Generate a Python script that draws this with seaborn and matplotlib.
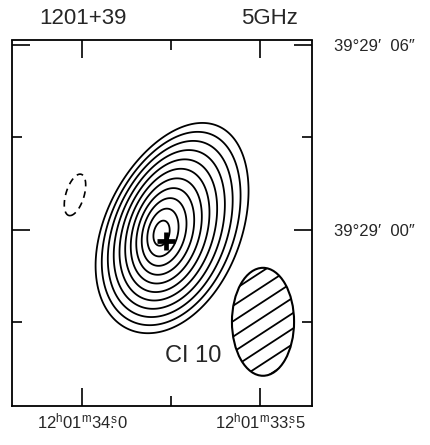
import numpy as np
import matplotlib
matplotlib.use("Agg")
import matplotlib.pyplot as plt
from matplotlib.patches import Ellipse
from matplotlib.ticker import FixedLocator, FixedFormatter, NullFormatter
import seaborn as sns

# ---- main source (RA in seconds of 12h01m, Dec offset in arcsec from +39°29'00") ----
src_ra, src_dec = 33.7809, -0.13       # brightness peak
src_peak = 115.5                       # map units
src_major, src_minor = 3.60, 2.20      # semi-axes of the lowest contour (arcsec)
src_tilt = [12.0, 24.0]                # deg from north toward the right, peak -> lowest contour
src_shift = [0.44, 0.20]               # drift of contour centres, right/up (arcsec)
src_taper = 0.05                       # narrowing toward the north end
src_core = 0.12                        # rounding of the profile at the peak

# ---- negative feature ----
neg_ra, neg_dec = 34.0197, 1.135
neg_peak = -14.0
neg_major, neg_minor = 0.85, 0.36      # arcsec (gaussian sigma)
neg_tilt = 17.0

pos_levels = [10, 20, 30, 40, 50, 60, 70, 80, 90, 100, 110]
neg_levels = [-10]

# optical position
cross_ra, cross_dec = 33.764, -0.357

# restoring beam (FWHM, arcsec)
beam_ra, beam_dec = 33.4916, -2.98
beam_major, beam_minor = 3.50, 2.02
hatch_angle = 33.0      # deg above horizontal
hatch_step = 0.42       # arcsec between hatch lines

ra_major = [34.0, 33.5]
ra_labels = [r"$12^{\rm h}01^{\rm m}34\overset{\rm s}{.}0$",
             r"$12^{\rm h}01^{\rm m}33\overset{\rm s}{.}5$"]
ra_minor = [33.75]
dec_major = [6.0, 0.0]
dec_labels = ["39°29′  06″", "39°29′  00″"]
dec_minor = [3.0, -3.0]

title_left = "1201+39"
title_right = "5GHz"
note = "CI 10"

# ---- style ----
sns.set_theme(style="white")
plt.rcParams["font.family"] = ["Liberation Sans", "DejaVu Sans"]
plt.rcParams["mathtext.fontset"] = "custom"
plt.rcParams["mathtext.rm"] = "Liberation Sans"
plt.rcParams["mathtext.it"] = "Liberation Sans:italic"

K = 15.0 * np.cos(np.radians(39 + 29 / 60))   # arcsec per RA second

fig = plt.figure(figsize=(4.30, 4.45), dpi=100)
ax = fig.add_axes([12 / 430, 39 / 445, 300 / 430, 365.5 / 445])

ra = np.linspace(33.25, 34.30, 600)
dec = np.linspace(-6.5, 7.0, 600)
RA, DEC = np.meshgrid(ra, dec)


def rotated(dx, dy, tilt):
    t = np.radians(tilt)
    return dx * np.sin(t) + dy * np.cos(t), dx * np.cos(t) - dy * np.sin(t)


# main source: egg-shaped profile whose contour centres and axes drift outward
dx0 = (src_ra - RA) * K
dy0 = DEC - src_dec
rho = np.zeros_like(RA)
for _ in range(12):
    r = np.clip(rho, 0, 1.5)
    tilt = src_tilt[0] + (src_tilt[1] - src_tilt[0]) * np.clip(r, 0, 1)
    u, v = rotated(dx0 - r * src_shift[0], dy0 - r * src_shift[1], tilt)
    width = src_minor * np.clip(1 - src_taper * u / src_major, 0.3, None)
    rho = np.hypot(u / src_major, v / width)
lowest = pos_levels[0]
slope = (src_peak - lowest) / (np.sqrt(1 + src_core ** 2) - src_core)
top = src_peak + slope * src_core
field = np.clip(top - slope * np.sqrt(rho ** 2 + src_core ** 2), 0, None)

# negative feature
u, v = rotated((neg_ra - RA) * K, DEC - neg_dec, neg_tilt)
field += neg_peak * np.exp(-0.5 * ((u / neg_major) ** 2 + (v / neg_minor) ** 2))

ax.contour(RA, DEC, field, levels=pos_levels, colors="black", linewidths=1.3)
neg = ax.contour(RA, DEC, field, levels=neg_levels, colors="black", linewidths=1.2)
neg.set_linestyle((0, (4, 3)))

ax.plot([cross_ra], [cross_dec], marker="+", markersize=13, mew=3.4, color="black")

# hatched beam
beam = Ellipse((beam_ra, beam_dec), width=beam_minor / K, height=beam_major,
               facecolor="white", edgecolor="black", lw=1.5, zorder=3)
ax.add_patch(beam)
a = np.radians(hatch_angle)
nx, ny = -np.sin(a), np.cos(a)
for k in np.arange(-8, 9):
    ox, oy = (k + 0.3) * hatch_step * nx, (k + 0.3) * hatch_step * ny
    xs = np.array([ox - 4 * np.cos(a), ox + 4 * np.cos(a)])
    ys = np.array([oy - 4 * np.sin(a), oy + 4 * np.sin(a)])
    ln, = ax.plot(beam_ra - xs / K, beam_dec + ys, color="black", lw=1.3, zorder=4)
    ln.set_clip_path(beam)

ax.set_xlim(34.1966, 33.354)
ax.set_ylim(-5.71, 6.14)

ax.xaxis.set_major_locator(FixedLocator(ra_major))
ax.xaxis.set_major_formatter(FixedFormatter(ra_labels))
ax.xaxis.set_minor_locator(FixedLocator(ra_minor))
ax.xaxis.set_minor_formatter(NullFormatter())
ax.yaxis.set_major_locator(FixedLocator(dec_major))
ax.yaxis.set_major_formatter(FixedFormatter(dec_labels))
ax.yaxis.set_minor_locator(FixedLocator(dec_minor))
ax.yaxis.set_minor_formatter(NullFormatter())

ax.tick_params(which="both", direction="in", top=True, bottom=True, left=True, right=True,
               labelleft=False, labelright=True, color="black", width=1.2)
ax.tick_params(which="major", length=13)
ax.tick_params(which="minor", length=7)
ax.tick_params(axis="x", which="major", labelsize=12, pad=4)
ax.tick_params(axis="y", which="major", labelsize=12, pad=15.5)
for s in ax.spines.values():
    s.set_color("black")
    s.set_linewidth(1.3)

ax.text(0.603, 0.137, note, transform=ax.transAxes, fontsize=17, ha="center", va="center")
fig.text(83 / 430, 1 - 18 / 445, title_left, fontsize=16, ha="center", va="center")
fig.text(269 / 430, 1 - 18 / 445, title_right, fontsize=16, ha="center", va="center")

fig.savefig("out.png", dpi=100, facecolor="white")
